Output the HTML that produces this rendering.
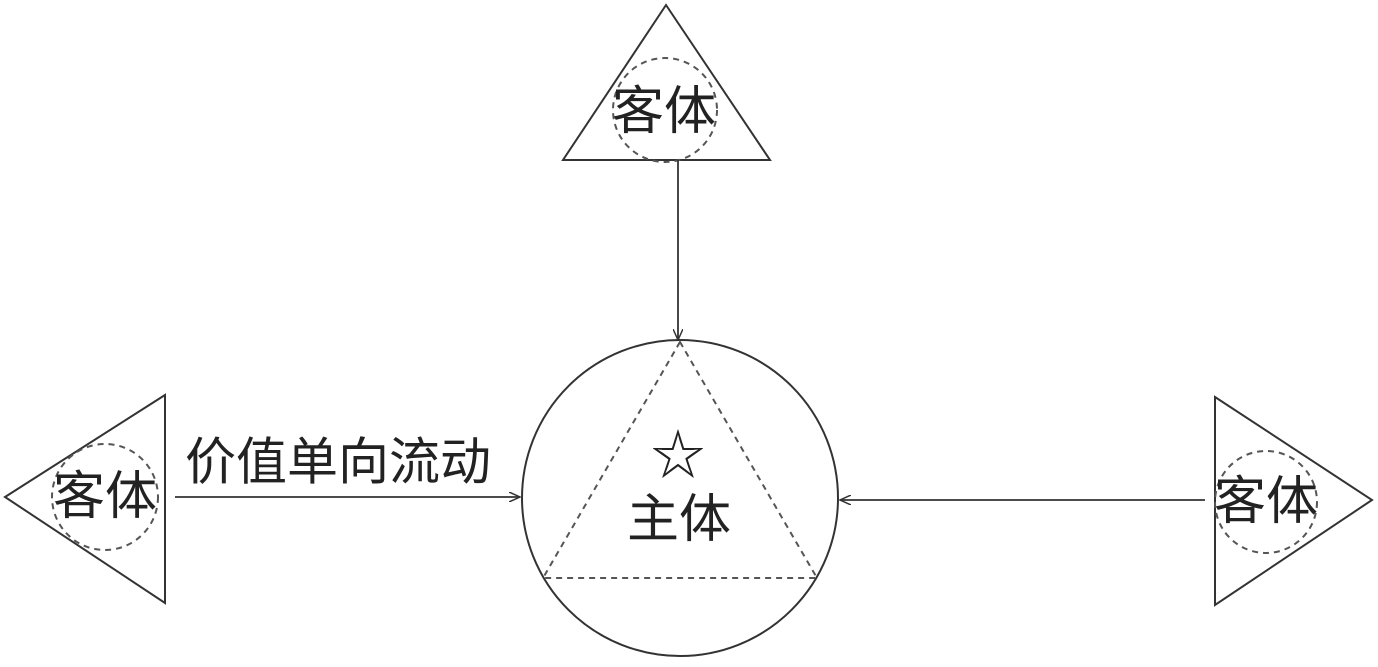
<!DOCTYPE html>
<html><head><meta charset="utf-8"><style>
html,body{margin:0;padding:0;background:#fff;}
svg text{font-family:"Liberation Sans","Noto Sans CJK SC",sans-serif;fill:#222;}
</style></head><body>
<svg width="1378" height="662" viewBox="0 0 1378 662" xmlns="http://www.w3.org/2000/svg">
<defs><marker id="a" markerWidth="12" markerHeight="10" refX="11" refY="5" orient="auto" markerUnits="userSpaceOnUse"><path d="M0,0 L11,5 L0,10" fill="none" stroke="#333" stroke-width="1.5"/></marker></defs>
<g fill="none" stroke="#333" stroke-width="2">
<polygon points="666,5 563,160 770,160"/>
<polygon points="5,497 165,395 165,603"/>
<polygon points="1215,397 1215,605 1372,500"/>
<circle cx="680" cy="498" r="158"/>
</g>
<g fill="none" stroke="#555" stroke-width="2" stroke-dasharray="6,5">
<circle cx="665" cy="110" r="52"/>
<circle cx="105" cy="497" r="53"/>
<circle cx="1266" cy="502" r="51"/>
<polygon points="680,342 543,578 817,578"/>
</g>
<g stroke="#333" stroke-width="1.8" fill="none">
<line x1="678" y1="160" x2="678" y2="340" marker-end="url(#a)"/>
<line x1="175" y1="497" x2="520" y2="497" marker-end="url(#a)"/>
<line x1="1205" y1="500" x2="840" y2="500" marker-end="url(#a)"/>
</g>
<g font-size="52" text-anchor="middle" dominant-baseline="central">
<text x="664" y="112">客体</text>
<text x="105" y="497">客体</text>
<text x="1266" y="502">客体</text>
<text x="679" y="520">主体</text>
<text x="678" y="456" font-size="54">☆</text>
<text x="338" y="462" font-size="51">价值单向流动</text>
</g>
</svg>
</body></html>
